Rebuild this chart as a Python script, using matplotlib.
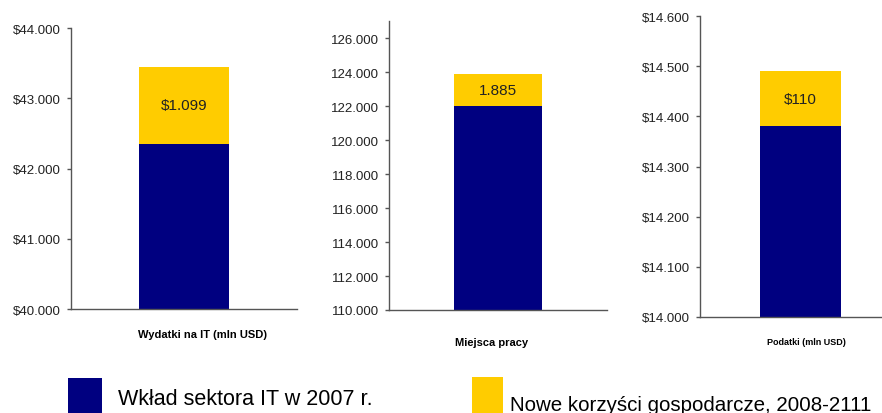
import matplotlib
matplotlib.use("Agg")
import matplotlib.pyplot as plt
from matplotlib.patches import Rectangle

plt.rcParams['font.family'] = ['Liberation Sans', 'DejaVu Sans']

# dane
titles = ["Wydatki na IT (mln USD)", "Miejsca pracy", "Podatki (mln USD)"]
base_2007 = [42350, 122000, 14380]
new_benefit = [1099, 1885, 110]
bar_labels = ["$1.099", "1.885", "$110"]
prefixes = ["$", "", "$"]
ylims = [(40000, 44000), (110000, 127000), (14000, 14600)]
yticks = [[40000, 41000, 42000, 43000, 44000],
          [110000, 112000, 114000, 116000, 118000, 120000, 122000, 124000, 126000],
          [14000, 14100, 14200, 14300, 14400, 14500, 14600]]
legend_labels = ["Wkład sektora IT w 2007 r.", "Nowe korzyści gospodarcze, 2008-2111"]

navy = "#000080"
gold = "#FFCC00"

fig = plt.figure(figsize=(8.82, 4.14), dpi=100)

positions = [[0.0805, 0.2512, 0.2562, 0.6787],
             [0.441, 0.2488, 0.2472, 0.698],
             [0.7937, 0.2319, 0.2279, 0.727]]
bar_widths = [0.4, 0.4, 0.4]
title_pos = [(0.58, -0.09), (0.47, -0.11), (0.53, -0.08)]
title_size = [8, 8, 6.5]

for i in range(3):
    ax = fig.add_axes(positions[i])
    ax.bar([0], [base_2007[i]], width=bar_widths[i], color=navy)
    ax.bar([0], [new_benefit[i]], bottom=[base_2007[i]], width=bar_widths[i], color=gold)
    ax.text(0, base_2007[i] + new_benefit[i] / 2, bar_labels[i],
            ha='center', va='center', fontsize=11, color='#222222')
    ax.set_xlim(-0.5, 0.5)
    ax.set_ylim(*ylims[i])
    ax.set_yticks(yticks[i])
    ax.set_yticklabels([prefixes[i] + f"{v:,.0f}".replace(",", ".") for v in yticks[i]],
                       fontsize=9.5, color='#222222')
    ax.set_xticks([])
    for s in ['top', 'right']:
        ax.spines[s].set_visible(False)
    for s in ['left', 'bottom']:
        ax.spines[s].set_color('#555555')
        ax.spines[s].set_linewidth(1)
    ax.tick_params(axis='y', length=3, width=1, color='#555555', pad=4)
    ax.text(title_pos[i][0], title_pos[i][1], titles[i], transform=ax.transAxes,
            ha='center', va='center', fontsize=title_size[i], fontweight='bold')

# legenda
W, H = 882, 414
fig.patches.append(Rectangle((68 / W, 0), 34 / W, 35 / H, transform=fig.transFigure,
                             facecolor=navy, edgecolor='none'))
fig.patches.append(Rectangle((472 / W, 0), 31 / W, 36 / H, transform=fig.transFigure,
                             facecolor=gold, edgecolor='none'))
fig.text(118 / W, 1 - 405 / H, legend_labels[0], fontsize=15.5, va='baseline')
fig.text(510 / W, 1 - 411 / H, legend_labels[1], fontsize=14.8, va='baseline')

fig.savefig("out.png", dpi=100)
